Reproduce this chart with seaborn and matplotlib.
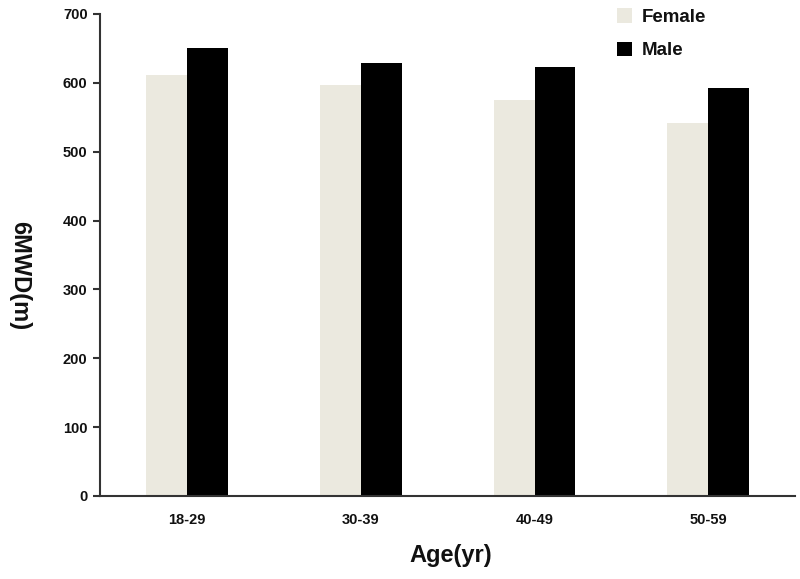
import numpy as np
import matplotlib
matplotlib.use('Agg')
import matplotlib.pyplot as plt
import pandas as pd
import seaborn as sns

age_groups = ['18-29', '30-39', '40-49', '50-59']
female = [611, 597, 575, 541]
male = [650, 629, 623, 592]
sexes = ['Female', 'Male']
y_ticks = [0, 100, 200, 300, 400, 500, 600, 700]

df = pd.DataFrame({
    'Age': age_groups * 2,
    'Sex': ['Female'] * len(female) + ['Male'] * len(male),
    'Distance': female + male,
})

sns.set_theme(style='white')
plt.rcParams['font.family'] = ['Liberation Sans', 'DejaVu Sans']

fig = plt.figure(figsize=(8, 5.79), dpi=100)
ax = fig.add_axes([0.125, 0.1434, 0.869, 0.8325])

palette = {'Female': '#ebe9df', 'Male': '#000000'}
sns.barplot(data=df, x='Age', y='Distance', hue='Sex', hue_order=sexes,
            palette=palette, width=0.47, gap=0, saturation=1,
            edgecolor='none', linewidth=0, ax=ax)

ax.set_xlim(-0.5, 3.5)
ax.set_ylim(0, 700)
ax.set_yticks(y_ticks)
ax.set_yticklabels([str(t) for t in y_ticks], fontsize=10.5, fontweight='bold', color='#111111')
ax.set_xticks(range(len(age_groups)))
ax.set_xticklabels(age_groups, fontsize=10.5, fontweight='bold', color='#111111')

ax.tick_params(axis='y', direction='out', length=5, width=1.5, color='#333333', pad=4, left=True)
ax.tick_params(axis='x', length=0, pad=12)

for side in ['top', 'right']:
    ax.spines[side].set_visible(False)
for side in ['left', 'bottom']:
    ax.spines[side].set_color('#333333')
    ax.spines[side].set_linewidth(1.5)

ax.set_ylabel('6MWD(m)', fontsize=17, fontweight='bold', rotation=270, va='center', color='#111111')
ax.yaxis.set_label_coords(-0.115, 0.458)
ax.set_xlabel('Age(yr)', fontsize=17, fontweight='bold', color='#111111')
ax.xaxis.set_label_coords(0.505, -0.1)

leg = ax.legend(frameon=False, loc='upper left', bbox_to_anchor=(0.72, 1.047),
                handlelength=0.8, handleheight=0.8,
                handletextpad=0.5, labelspacing=0.85, prop={'weight': 'bold', 'size': 13.5})
for t in leg.get_texts():
    t.set_color('#111111')

fig.savefig('out.png', dpi=100)
